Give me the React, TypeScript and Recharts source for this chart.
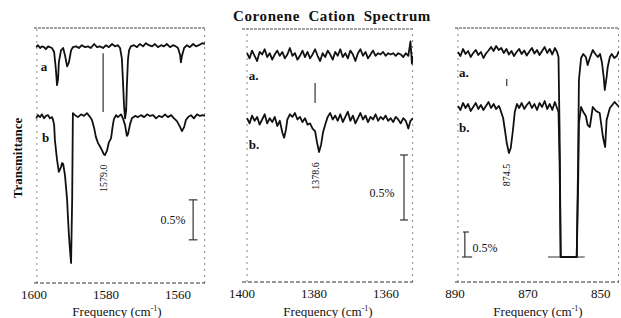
import { LineChart, Line, XAxis, YAxis, ReferenceLine, ReferenceDot } from 'recharts';

const serif = '"Liberation Serif", "DejaVu Serif", serif';
const ink = '#111';

// ---- panel 1: 1600-1552 cm-1 (transmittance in %, arbitrary offset) ----
const p1Ticks = [1600, 1580, 1560];
const p1A: [number, number][] = [
  [1599.4, 2.95], [1598.9, 2.975], [1598.3, 2.94], [1597.8, 2.96], [1597.2, 2.95], [1596.7, 2.925],
  [1596.1, 2.96], [1595.6, 2.95], [1595.0, 2.94], [1594.4, 2.89], [1593.9, 2.66], [1593.6, 2.475],
  [1593.3, 2.56], [1593.1, 2.76], [1592.5, 2.91], [1591.9, 2.94], [1591.4, 2.85], [1590.8, 2.71],
  [1590.3, 2.76], [1589.7, 2.91], [1589.2, 2.95], [1588.3, 2.96], [1587.5, 2.94], [1586.7, 2.975],
  [1585.8, 2.95], [1585.0, 2.96], [1584.2, 2.94], [1583.3, 2.99], [1582.5, 2.95], [1581.7, 2.96],
  [1580.8, 2.94], [1580.0, 2.975], [1579.2, 2.95], [1578.3, 2.99], [1577.5, 2.96], [1576.7, 2.975],
  [1576.1, 2.94], [1575.6, 2.81], [1575.3, 2.54], [1575.0, 2.225], [1574.7, 2.06], [1574.4, 2.16],
  [1574.2, 2.475], [1573.9, 2.79], [1573.6, 2.91], [1573.1, 2.96], [1572.2, 2.975], [1571.4, 2.95],
  [1570.6, 2.99], [1569.7, 2.96], [1568.9, 3.0], [1568.1, 2.975], [1567.2, 2.96], [1566.4, 2.99],
  [1565.6, 2.95], [1564.7, 2.975], [1563.9, 2.96], [1563.1, 2.99], [1562.2, 2.95], [1561.4, 2.975],
  [1560.6, 2.96], [1560.0, 2.94], [1559.4, 2.85], [1559.2, 2.76], [1558.9, 2.84], [1558.3, 2.94],
  [1557.5, 2.975], [1556.7, 2.95], [1555.8, 2.99], [1555.0, 2.96], [1554.2, 2.975], [1553.3, 3.0],
  [1552.5, 2.99],
];
const p1B: [number, number][] = [
  [1599.4, 2.06], [1598.9, 2.1], [1598.3, 2.075], [1597.8, 2.11], [1597.2, 2.06], [1596.7, 2.09],
  [1596.1, 2.1], [1595.6, 2.06], [1595.0, 2.075], [1594.7, 2.04], [1594.4, 1.975], [1594.2, 1.79],
  [1593.6, 1.54], [1593.1, 1.39], [1592.5, 1.45], [1592.2, 1.5], [1591.9, 1.49], [1591.4, 1.35],
  [1590.8, 1.04], [1590.6, 0.85], [1590.3, 0.6], [1590.0, 0.41], [1589.7, 0.25], [1589.4, 1.04],
  [1589.2, 2.125], [1588.6, 2.1], [1587.8, 2.075], [1586.9, 2.11], [1586.1, 2.09], [1585.3, 2.125],
  [1584.4, 2.075], [1583.9, 2.04], [1583.3, 1.94], [1582.8, 1.825], [1582.2, 1.75], [1581.7, 1.71],
  [1581.1, 1.66], [1580.6, 1.61], [1580.3, 1.6], [1579.7, 1.66], [1579.2, 1.76], [1578.6, 1.81],
  [1578.1, 1.975], [1577.8, 2.05], [1577.2, 2.1], [1576.7, 2.075], [1575.8, 2.11], [1575.3, 2.06],
  [1574.7, 1.975], [1574.2, 1.84], [1573.9, 1.86], [1573.3, 1.99], [1572.8, 2.06], [1571.9, 2.09],
  [1571.1, 2.075], [1570.3, 2.1], [1569.4, 2.075], [1568.6, 2.11], [1567.8, 2.09], [1566.9, 2.1],
  [1566.1, 2.06], [1565.3, 2.09], [1564.4, 2.075], [1563.6, 2.11], [1562.8, 2.075], [1561.9, 2.1],
  [1561.1, 2.06], [1560.3, 2.025], [1559.4, 1.95], [1558.9, 1.9], [1558.3, 1.95], [1557.8, 2.04],
  [1557.2, 2.075], [1556.4, 2.1], [1555.6, 2.06], [1554.7, 2.11], [1553.9, 2.09], [1553.1, 2.1],
  [1552.5, 2.09],
];

// ---- panel 2: 1400-1352 cm-1 ----
const p2Ticks = [1400, 1380, 1360];
const p2A: [number, number][] = [
  [1398.6, 1.76], [1397.9, 1.72], [1397.2, 1.78], [1396.5, 1.74], [1395.8, 1.7], [1395.1, 1.77],
  [1394.4, 1.75], [1393.7, 1.79], [1393.0, 1.73], [1392.3, 1.76], [1391.6, 1.71], [1390.9, 1.75],
  [1390.2, 1.78], [1389.5, 1.74], [1388.8, 1.77], [1388.1, 1.72], [1387.4, 1.75], [1386.7, 1.8],
  [1386.0, 1.74], [1385.3, 1.76], [1384.6, 1.71], [1383.9, 1.74], [1383.2, 1.78], [1382.5, 1.73],
  [1381.8, 1.77], [1381.1, 1.72], [1380.4, 1.75], [1379.7, 1.79], [1379.0, 1.74], [1378.3, 1.7],
  [1377.6, 1.76], [1376.9, 1.73], [1376.2, 1.78], [1375.5, 1.75], [1374.8, 1.71], [1374.1, 1.77],
  [1373.4, 1.74], [1372.7, 1.79], [1372.0, 1.73], [1371.3, 1.76], [1370.6, 1.72], [1369.9, 1.78],
  [1369.2, 1.75], [1368.5, 1.7], [1367.8, 1.76], [1367.1, 1.79], [1366.4, 1.74], [1365.7, 1.77],
  [1365.0, 1.72], [1364.3, 1.75], [1363.6, 1.78], [1362.9, 1.74], [1362.2, 1.76], [1361.5, 1.75],
  [1360.8, 1.77], [1360.1, 1.74], [1359.4, 1.76], [1358.7, 1.75], [1358.0, 1.76], [1357.3, 1.74],
  [1356.6, 1.76], [1355.9, 1.75], [1355.2, 1.73], [1354.5, 1.76], [1353.8, 1.74], [1353.2, 1.85],
  [1352.8, 1.68], [1352.5, 1.74],
];
const p2B: [number, number][] = [
  [1398.6, 1.26], [1397.9, 1.22], [1397.2, 1.28], [1396.5, 1.24], [1395.8, 1.27], [1395.1, 1.21],
  [1394.4, 1.25], [1393.7, 1.29], [1393.0, 1.22], [1392.3, 1.26], [1391.6, 1.23], [1390.9, 1.27],
  [1390.2, 1.2], [1389.5, 1.24], [1388.8, 1.15], [1388.3, 1.11], [1387.8, 1.17], [1387.4, 1.25],
  [1386.7, 1.29], [1386.0, 1.27], [1385.3, 1.3], [1384.6, 1.25], [1383.9, 1.27], [1383.2, 1.23],
  [1382.5, 1.26], [1381.8, 1.21], [1381.1, 1.22], [1380.4, 1.18], [1379.7, 1.16], [1379.2, 1.08],
  [1378.6, 1.0], [1378.0, 1.06], [1377.5, 1.15], [1376.9, 1.21], [1376.2, 1.27], [1375.5, 1.3],
  [1374.8, 1.25], [1374.1, 1.28], [1373.4, 1.24], [1372.7, 1.29], [1372.0, 1.23], [1371.3, 1.27],
  [1370.6, 1.31], [1369.9, 1.24], [1369.2, 1.28], [1368.5, 1.22], [1367.8, 1.26], [1367.1, 1.3],
  [1366.4, 1.25], [1365.7, 1.28], [1365.0, 1.23], [1364.3, 1.27], [1363.6, 1.25], [1362.9, 1.29],
  [1362.2, 1.24], [1361.5, 1.27], [1360.8, 1.25], [1360.1, 1.28], [1359.4, 1.24], [1358.7, 1.26],
  [1358.0, 1.23], [1357.3, 1.27], [1356.6, 1.25], [1355.9, 1.22], [1355.2, 1.26], [1354.5, 1.24],
  [1353.8, 1.18], [1353.2, 1.24], [1352.5, 1.26],
];

// ---- panel 3: 890-845 cm-1 ----
const p3Ticks = [890, 870, 850];
const p3A: [number, number][] = [
  [889.2, 4.6], [888.5, 4.52], [887.8, 4.66], [887.1, 4.56], [886.4, 4.62], [885.7, 4.5],
  [885.0, 4.58], [884.3, 4.64], [883.6, 4.54], [882.9, 4.6], [882.2, 4.48], [881.5, 4.57],
  [880.8, 4.63], [880.1, 4.7], [879.4, 4.62], [878.7, 4.72], [878.0, 4.64], [877.3, 4.68],
  [876.6, 4.58], [875.9, 4.66], [875.2, 4.55], [874.5, 4.62], [873.8, 4.52], [873.1, 4.6],
  [872.4, 4.66], [871.7, 4.56], [871.0, 4.63], [870.3, 4.53], [869.6, 4.61], [868.9, 4.68],
  [868.2, 4.57], [867.5, 4.64], [866.8, 4.54], [866.1, 4.62], [865.4, 4.7], [864.7, 4.58],
  [864.0, 4.66], [863.3, 4.55], [862.6, 4.68], [862.0, 4.6], [861.6, 4.5], [861.3, 3.0],
  [861.0, 0.5], [856.6, 0.5], [856.2, 2.5], [856.0, 4.04], [855.4, 4.48], [854.8, 4.56],
  [854.1, 4.5], [853.6, 4.34], [853.0, 4.48], [852.2, 4.64], [851.5, 4.56], [850.8, 4.5],
  [850.2, 4.56], [849.7, 4.4], [849.2, 4.1], [848.9, 3.84], [848.4, 4.1], [848.1, 4.3],
  [847.5, 4.5], [847.0, 4.56], [846.3, 4.48], [845.6, 4.52], [845.0, 4.62],
];
const p3B: [number, number][] = [
  [889.2, 3.52], [888.5, 3.44], [887.8, 3.58], [887.1, 3.48], [886.4, 3.56], [885.7, 3.42],
  [885.0, 3.5], [884.3, 3.58], [883.6, 3.46], [882.9, 3.54], [882.2, 3.44], [881.5, 3.52],
  [880.8, 3.6], [880.1, 3.48], [879.4, 3.56], [878.7, 3.46], [878.0, 3.52], [877.7, 3.48],
  [876.8, 3.28], [876.3, 3.04], [875.8, 2.78], [875.2, 2.58], [874.7, 2.68], [874.1, 3.04],
  [873.6, 3.4], [873.0, 3.56], [872.4, 3.48], [871.7, 3.58], [871.0, 3.46], [870.3, 3.54],
  [869.6, 3.6], [868.9, 3.48], [868.2, 3.56], [867.5, 3.44], [866.8, 3.58], [866.1, 3.5],
  [865.4, 3.62], [864.7, 3.46], [864.0, 3.56], [863.3, 3.44], [862.6, 3.6], [862.0, 3.48],
  [861.6, 3.4], [861.3, 2.4], [861.0, 0.5], [856.6, 0.5], [856.2, 2.0], [856.0, 3.18],
  [855.4, 3.5], [854.8, 3.4], [854.1, 3.32], [853.6, 3.14], [853.0, 3.1], [852.2, 3.5],
  [851.3, 3.42], [850.3, 3.38], [849.4, 2.9], [848.8, 2.7], [848.4, 3.24], [847.5, 3.48],
  [846.2, 3.6], [845.0, 3.5],
];

const rows = (pts: [number, number][]) => pts.map(([f, t]) => ({ f, t }));

type Note = { f: number; t: number; text: string; size?: number; bold?: boolean; anchor?: string; rotate?: number };
type Seg = [[number, number], [number, number]];

type PanelProps = {
  left: number;
  top: number;
  width: number;
  height: number;
  xDomain: [number, number];
  yMax: number;
  ticks: number[];
  frameX: [number, number];
  traces: [number, number][][];
  segs: Seg[];
  notes: Note[];
};

const pad = { top: 10, right: 20, bottom: 0, left: 20 };

const textShape = (n: Note) => (p: any) => (
  <text
    x={p.cx}
    y={p.cy}
    fontFamily={serif}
    fontSize={n.size ?? 12}
    fontWeight={n.bold ? 700 : 400}
    fill={ink}
    textAnchor={n.anchor ?? 'middle'}
    dominantBaseline="central"
    transform={n.rotate ? `rotate(${n.rotate} ${p.cx} ${p.cy})` : undefined}
  >
    {n.text}
  </text>
);

const Panel = ({ left, top, width, height, xDomain, yMax, ticks, frameX, traces, segs, notes }: PanelProps) => (
  <div style={{ position: 'absolute', left: left - pad.left, top: top - pad.top }}>
    <LineChart width={width + pad.left + pad.right} height={height + pad.top + 20} margin={pad}>
      <XAxis
        type="number"
        dataKey="f"
        domain={xDomain}
        reversed
        allowDataOverflow
        ticks={ticks}
        interval={0}
        tickSize={0}
        tickMargin={7}
        height={20}
        axisLine={{ stroke: '#333', strokeDasharray: '4 2' }}
        tickLine={false}
        tick={{ fill: ink, fontSize: 13, fontFamily: serif }}
      />
      <YAxis hide type="number" domain={[0, yMax]} allowDataOverflow />
      <ReferenceLine y={yMax} stroke="#444" strokeDasharray="3 1" />
      <ReferenceLine x={frameX[0]} stroke="#888" strokeDasharray="2 4" />
      <ReferenceLine x={frameX[1]} stroke="#888" strokeDasharray="2 4" />
      {segs.map((s, i) => (
        <ReferenceLine key={'s' + i} segment={[{ x: s[0][0], y: s[0][1] }, { x: s[1][0], y: s[1][1] }]} stroke="#333" strokeWidth={1.2} />
      ))}
      {traces.map((tr, i) => (
        <Line
          key={'t' + i}
          data={rows(tr)}
          dataKey="t"
          type="linear"
          dot={false}
          stroke={ink}
          strokeWidth={1.8}
          strokeLinejoin="round"
          isAnimationActive={false}
        />
      ))}
      {notes.map((n, i) => (
        <ReferenceDot key={'n' + i} x={n.f} y={n.t} r={0} shape={textShape(n)} />
      ))}
    </LineChart>
  </div>
);

const freqLabel = (cx: number) => (
  <div
    style={{
      position: 'absolute',
      left: cx,
      top: 305,
      transform: 'translateX(-50%)',
      fontFamily: serif,
      fontSize: 13,
      lineHeight: 1,
      whiteSpace: 'nowrap',
      color: ink,
    }}
  >
    Frequency (cm<span style={{ fontSize: 8, position: 'relative', top: -5 }}>-1</span>)
  </div>
);

export default function App() {
  return (
    <div style={{ position: 'absolute', left: 0, top: 0, width: 621, height: 318, background: '#fff', overflow: 'hidden' }}>
      <div
        style={{
          position: 'absolute',
          left: 332,
          top: 9,
          transform: 'translateX(-50%)',
          fontFamily: serif,
          fontWeight: 700,
          fontSize: 15,
          lineHeight: 1,
          wordSpacing: 4,
          letterSpacing: 0.6,
          whiteSpace: 'nowrap',
          color: ink,
        }}
      >
        Coronene Cation Spectrum
      </div>
      <div
        style={{
          position: 'absolute',
          left: 17,
          top: 158,
          transform: 'translate(-50%, -50%) rotate(-90deg)',
          fontFamily: serif,
          fontWeight: 700,
          fontSize: 13,
          lineHeight: 1,
          whiteSpace: 'nowrap',
          color: ink,
        }}
      >
        Transmittance
      </div>

      <Panel
        left={34}
        top={28}
        width={171}
        height={255}
        xDomain={[1552.5, 1600]}
        yMax={3.19}
        ticks={p1Ticks}
        frameX={[1599.2, 1552.6]}
        traces={[p1A, p1B]}
        segs={[
          [[1580.8, 2.875], [1580.8, 2.14]],
          [[1555.8, 1.04], [1555.8, 0.54]],
          [[1557.0, 1.04], [1554.6, 1.04]],
          [[1557.0, 0.54], [1554.6, 0.54]],
        ]}
        notes={[
          { f: 1598.1, t: 2.71, text: 'a', bold: true, anchor: 'start', size: 13 },
          { f: 1597.8, t: 1.825, text: 'b', bold: true, anchor: 'start', size: 13 },
          { f: 1580.8, t: 1.31, text: '1579.0', size: 10, rotate: -90 },
          { f: 1561.4, t: 0.79, text: '0.5%', size: 12 },
        ]}
      />

      <Panel
        left={242}
        top={29}
        width={171}
        height={253}
        xDomain={[1352.5, 1400]}
        yMax={1.946}
        ticks={p2Ticks}
        frameX={[1398.6, 1352.6]}
        traces={[p2A, p2B]}
        segs={[
          [[1379.7, 1.53], [1379.7, 1.377]],
          [[1355.0, 0.977], [1355.0, 0.477]],
          [[1356.1, 0.977], [1353.9, 0.977]],
          [[1356.1, 0.477], [1353.9, 0.477]],
        ]}
        notes={[
          { f: 1398.1, t: 1.59, text: 'a.', bold: true, anchor: 'start', size: 13 },
          { f: 1398.1, t: 1.054, text: 'b.', bold: true, anchor: 'start', size: 13 },
          { f: 1379.7, t: 0.815, text: '1378.6', size: 10, rotate: -90 },
          { f: 1361.1, t: 0.685, text: '0.5%', size: 12 },
        ]}
      />

      <Panel
        left={455}
        top={28}
        width={164}
        height={254}
        xDomain={[845, 890]}
        yMax={5.08}
        ticks={p3Ticks}
        frameX={[889.2, 845.1]}
        traces={[p3A, p3B]}
        segs={[
          [[875.8, 4.06], [875.8, 3.92]],
          [[864.5, 0.5], [854.4, 0.5]],
          [[887.3, 1.0], [887.3, 0.5]],
          [[887.8, 1.0], [886.2, 1.0]],
          [[888.1, 0.5], [885.3, 0.5]],
        ]}
        notes={[
          { f: 888.9, t: 4.2, text: 'a.', bold: true, anchor: 'start', size: 13 },
          { f: 888.9, t: 3.1, text: 'b.', bold: true, anchor: 'start', size: 13 },
          { f: 875.8, t: 2.14, text: '874.5', size: 10, rotate: -90 },
          { f: 885.2, t: 0.68, text: '0.5%', size: 12, anchor: 'start' },
        ]}
      />

      {freqLabel(117)}
      {freqLabel(328)}
      {freqLabel(538)}
    </div>
  );
}
